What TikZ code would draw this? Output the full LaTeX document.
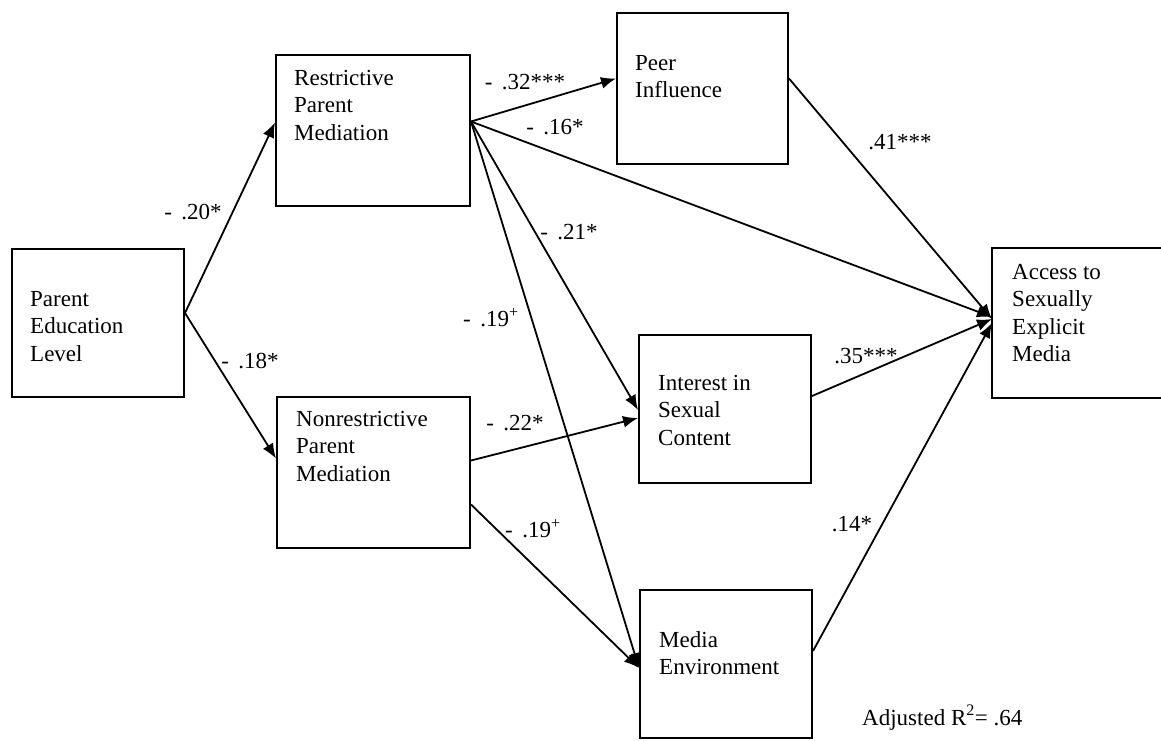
\documentclass[tikz,border=0pt]{standalone}
\usepackage{fontspec}
\setmainfont{Liberation Serif}
\usetikzlibrary{calc,arrows.meta}

\begin{document}
\begin{tikzpicture}[
  x=1pt, y=-1pt,
  box/.style={draw, line width=2pt, inner sep=0pt, anchor=north west},
  txt/.style={anchor=north west, inner sep=0pt, align=left,
              font=\fontsize{23}{27.5}\selectfont},
  coef/.style={inner sep=0pt, font=\fontsize{23}{27.5}\selectfont},
  arr/.style={line width=1.8pt, -{Latex[length=15pt,width=12pt]}},
]
\useasboundingbox (0,0) rectangle (1161,740);

% boxes
\node[box, minimum width=172pt, minimum height=148pt] (pel) at (11,248) {};
\node[box, minimum width=194pt, minimum height=151pt] (rpm) at (275,54) {};
\node[box, minimum width=193pt, minimum height=151pt] (npm) at (276,396) {};
\node[box, minimum width=171pt, minimum height=151pt] (peer) at (616,12) {};
\node[box, minimum width=172pt, minimum height=148pt] (int) at (638,334) {};
\node[box, minimum width=172pt, minimum height=148pt] (med) at (639,589) {};
\node[box, draw=none, minimum width=169pt, minimum height=148pt] (acc) at (992,248) {};
\draw[line width=2pt] (acc.north east) -- (acc.north west) -- (acc.south west) -- (acc.south east);

% box texts
\node[txt] (pelT)  at (30,286.75)  {\strut Parent\\Education\\Level};
\node[txt] (rpmT)  at (294,65.75)  {\strut Restrictive\\Parent\\Mediation};
\node[txt] (npmT)  at (296,406.75) {\strut Nonrestrictive\\Parent\\Mediation};
\node[txt] (peerT) at (635,50.75)  {\strut Peer\\Influence};
\node[txt] (intT)  at (658,370.75) {\strut Interest in\\Sexual\\Content};
\node[txt] (medT)  at (659,627.75) {\strut Media\\Environment};
\node[txt] (accT)  at (1012,259.75) {\strut Access to\\Sexually\\Explicit\\Media};

% paths
\coordinate (pelOut) at ($(pel.east)+(0,-10)$);
\coordinate (rpmOut) at ($(rpm.east)+(0,-9)$);
\draw[arr] (pelOut) -- ($(rpm.west)+(0,-8)$);
\draw[arr] (pelOut) -- ($(npm.west)+(0,-14)$);
\draw[arr] (rpmOut) -- ($(peer.west)+(0,-10)$);
\draw[arr] (rpmOut) -- ($(acc.west)+(0,-6)$);
\draw[arr] (rpmOut) -- ($(int.west)+(0,1)$);
\draw[arr] (rpmOut) -- ($(med.west)+(0,4)$);
\draw[arr] ($(npm.east)+(0,-12)$) -- ($(int.west)+(0,9)$);
\draw[arr] ($(npm.east)+(0,32)$) -- ($(med.west)+(0,4)$);
\draw[arr] ($(peer.east)+(0,-10)$) -- ($(acc.west)+(0,-4)$);
\draw[arr] ($(int.east)+(0,-13)$) -- ($(acc.west)+(0,-4)$);
\draw[arr] ($(med.east)+(0,-13)$) -- ($(acc.west)+(0,0)$);

% path coefficients
\node[coef] (c1)  at (193,212) {-\,\ .20*};
\node[coef] (c2)  at (250,361) {-\,\ .18*};
\node[coef] (c3)  at (525,82)  {-\,\ .32***};
\node[coef] (c4)  at (555,127) {-\,\ .16*};
\node[coef] (c5)  at (900,142) {.41***};
\node[coef] (c6)  at (569,232) {-\,\ .21*};
\node[coef] (c7)  at (491,318) {-\,\ .19\textsuperscript{+}};
\node[coef] (c8)  at (515,423) {-\,\ .22*};
\node[coef] (c9)  at (866,356) {.35***};
\node[coef] (c10) at (533,529) {-\,\ .19\textsuperscript{+}};
\node[coef] (c11) at (852,524) {.14*};
\node[coef, anchor=base west] (r2) at (862,725) {Adjusted R\textsuperscript{2}= .64};
\end{tikzpicture}
\end{document}
